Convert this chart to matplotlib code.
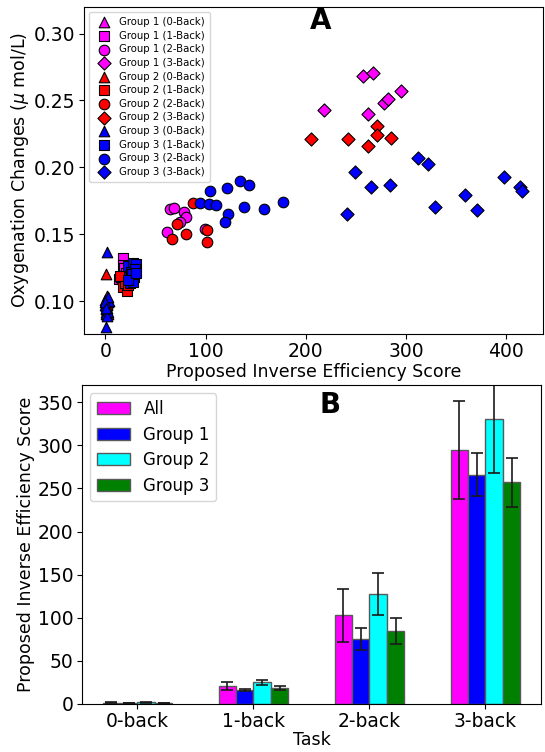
import numpy as np
import matplotlib
matplotlib.use("Agg")
import matplotlib.pyplot as plt

# scatter data: (inverse efficiency score, oxygenation change) per group / task
g1_x = [[0.5, 1.5, 2.5, 0.8, 3.0, 1.2, 2.0],
        [17, 17, 13.6, 18, 15, 20, 19],
        [64.8, 68.1, 78.4, 80.0, 74.1, 61.8, 99.7],
        [256.8, 267.5, 218.6, 261.8, 277.8, 281.8, 295.1]]
g1_y = [[0.098, 0.095, 0.101, 0.092, 0.099, 0.104, 0.097],
        [0.132, 0.127, 0.1164, 0.1246, 0.118, 0.121, 0.112],
        [0.1688, 0.1695, 0.1663, 0.1625, 0.1595, 0.1513, 0.1540],
        [0.2680, 0.2706, 0.2431, 0.2399, 0.2481, 0.2513, 0.2568]]
g2_x = [[0.5, 1.0, 2.0, 0.3, 1.8, 2.8],
        [16, 17, 21, 19, 14.5, 22],
        [87.3, 71.4, 66.4, 80.0, 101.0, 101.3],
        [204.7, 241.9, 270.8, 270.8, 285.1, 261.8]]
g2_y = [[0.120, 0.096, 0.093, 0.100, 0.098, 0.090],
        [0.1164, 0.1109, 0.1079, 0.1138, 0.119, 0.112],
        [0.1733, 0.1580, 0.1463, 0.1503, 0.1533, 0.1441],
        [0.2214, 0.2212, 0.2311, 0.2239, 0.2219, 0.2162]]
g3_x = [[1.6, 0.0, 3.6, -0.7, 1.0, 2.5, 0.2, 1.5, 0.8, 2.2, -0.3, 0.5],
        [22.5, 27.5, 30.2, 23.5, 28.2, 24.2, 27.0, 25, 29, 26, 22, 30],
        [104.0, 121.6, 134.6, 143.2, 94.0, 103.3, 110.0, 122.2, 119.6, 137.9, 157.8, 177.1],
        [248.6, 265.2, 283.5, 240.9, 311.7, 321.6, 329.3, 359.2, 370.9, 397.8, 413.8, 415.7]]
g3_y = [[0.137, 0.101, 0.100, 0.097, 0.094, 0.092, 0.090, 0.089, 0.081, 0.103, 0.099, 0.095],
        [0.1263, 0.1288, 0.1278, 0.1179, 0.1183, 0.1138, 0.1146, 0.122, 0.124, 0.120, 0.116, 0.121],
        [0.1820, 0.1845, 0.1900, 0.1865, 0.1733, 0.1725, 0.1715, 0.1650, 0.1593, 0.1700, 0.1690, 0.1738],
        [0.1965, 0.1850, 0.1867, 0.1653, 0.2070, 0.2027, 0.1707, 0.1795, 0.1680, 0.1927, 0.1850, 0.1820]]

# bar data
tasks = ['0-back', '1-back', '2-back', '3-back']
bar_labels = ['All', 'Group 1', 'Group 2', 'Group 3']
all_m = [1.5, 20.9, 102.7, 295]
all_e = [0.5, 5, 31, 57]
grp1_m = [1.2, 16.2, 75.3, 266]
grp1_e = [0.3, 1.2, 12.5, 25]
grp2_m = [1.8, 25.1, 127.5, 330]
grp2_e = [0.6, 3, 24, 62]
grp3_m = [1.0, 18.2, 84.6, 257]
grp3_e = [0.3, 2, 15, 28]

fig = plt.figure(figsize=(5.45, 7.52), dpi=100)
ax1 = fig.add_axes([0.154, 0.556, 0.842, 0.435])
ax2 = fig.add_axes([0.150, 0.064, 0.843, 0.424])

markers = ['^', 's', 'o', 'D']
back = ['0-Back', '1-Back', '2-Back', '3-Back']
for gi, (xs, ys, col) in enumerate([(g1_x, g1_y, 'magenta'), (g2_x, g2_y, 'red'), (g3_x, g3_y, 'blue')]):
    for t in range(4):
        ax1.scatter(xs[t], ys[t], marker=markers[t], c=col, edgecolors='k', linewidths=0.8,
                    s=45 if markers[t] == 'D' else 58,
                    label='Group %d (%s)' % (gi + 1, back[t]))
ax1.set_ylim(0.0755, 0.32)
ax1.set_xlabel('Proposed Inverse Efficiency Score', fontsize=12.5, labelpad=1)
ax1.set_ylabel(r'Oxygenation Changes ($\mu$ mol/L)', fontsize=12.5, labelpad=2)
ax1.tick_params(labelsize=13.5, pad=2.5)
ax1.legend(loc='upper left', fontsize=7.3, scatterpoints=1, labelspacing=0.36,
           handletextpad=0.5, borderpad=0.5)
ax1.text(0.516, 0.955, 'A', transform=ax1.transAxes, fontsize=20, fontweight='bold',
         ha='center', va='center')

x = np.arange(len(tasks))
w = 0.15
cols = ['magenta', 'blue', 'cyan', 'green']
for i, (m, e) in enumerate([(all_m, all_e), (grp1_m, grp1_e), (grp2_m, grp2_e), (grp3_m, grp3_e)]):
    ax2.bar(x + (i - 1.5) * w, m, w, yerr=e, color=cols[i], edgecolor='0.35', linewidth=1,
            capsize=4.5, error_kw=dict(ecolor='0.1', elinewidth=1.2, capthick=1.2),
            label=bar_labels[i])
ax2.set_ylim(0, 370)
ax2.set_xticks(x)
ax2.set_xticklabels(tasks)
ax2.set_xlabel('Task', fontsize=12.5, labelpad=0)
ax2.set_ylabel('Proposed Inverse Efficiency Score', fontsize=12.5, labelpad=2)
ax2.tick_params(labelsize=13.5, pad=2.5)
ax2.legend(loc='upper left', fontsize=12, labelspacing=0.45)
ax2.text(0.54, 0.937, 'B', transform=ax2.transAxes, fontsize=20, fontweight='bold',
         ha='center', va='center')

fig.savefig('out.png', dpi=100)
